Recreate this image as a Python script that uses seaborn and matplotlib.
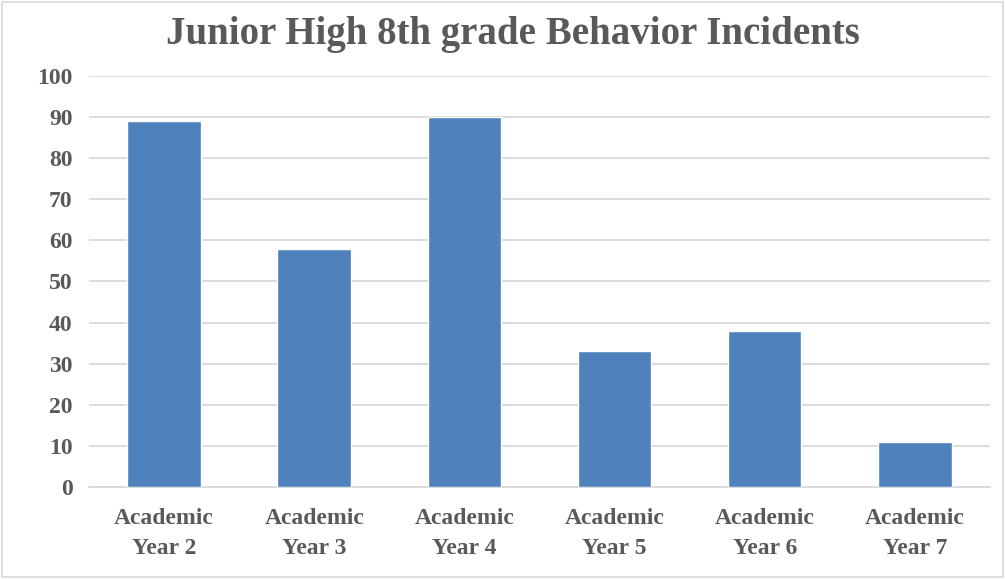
import matplotlib
matplotlib.use("Agg")
import matplotlib.pyplot as plt
import seaborn as sns
import pandas as pd

categories = ["Academic\nYear 2", "Academic\nYear 3", "Academic\nYear 4",
              "Academic\nYear 5", "Academic\nYear 6", "Academic\nYear 7"]
incidents = [89, 58, 90, 33, 38, 11]
y_ticks = [0, 10, 20, 30, 40, 50, 60, 70, 80, 90, 100]

df = pd.DataFrame({"year": categories, "incidents": incidents})

sns.set_theme(style="white")
plt.rcParams["font.family"] = ["Liberation Serif", "DejaVu Serif"]

text_color = "#595959"
grid_color = "#d9d9d9"

fig = plt.figure(figsize=(10.05, 5.79), dpi=100)
ax = fig.add_axes([0.0886, 0.159, 0.8964, 0.710])

sns.barplot(data=df, x="year", y="incidents", color="#4f81bd",
            saturation=1, width=0.49, ax=ax, zorder=3)

ax.set_ylim(0, 100)
ax.set_yticks(y_ticks)
ax.set_xlim(-0.5, len(categories) - 0.5)
ax.yaxis.grid(True, color=grid_color, linewidth=1.3, zorder=0)
ax.set_axisbelow(True)
for side in ["top", "right", "left"]:
    ax.spines[side].set_visible(False)
ax.spines["bottom"].set_color(grid_color)
ax.spines["bottom"].set_linewidth(1.3)
ax.tick_params(axis="x", length=0, labelsize=17, labelcolor=text_color, pad=15)
ax.tick_params(axis="y", length=0, labelsize=17, labelcolor=text_color, pad=12)
for lbl in ax.get_xticklabels() + ax.get_yticklabels():
    lbl.set_fontweight("bold")
for lbl in ax.get_xticklabels():
    lbl.set_linespacing(1.6)
ax.set_xlabel("")
ax.set_ylabel("")

fig.suptitle("Junior High 8th grade Behavior Incidents", x=0.51, y=0.972,
             fontsize=28, fontweight="bold", color=text_color)

# thin frame around the whole chart
fig.patches.append(plt.Rectangle((0.002, 0.003), 0.996, 0.994, transform=fig.transFigure,
                                 fill=False, edgecolor=grid_color, linewidth=1.2))

fig.savefig("out.png", dpi=100, facecolor="white")
